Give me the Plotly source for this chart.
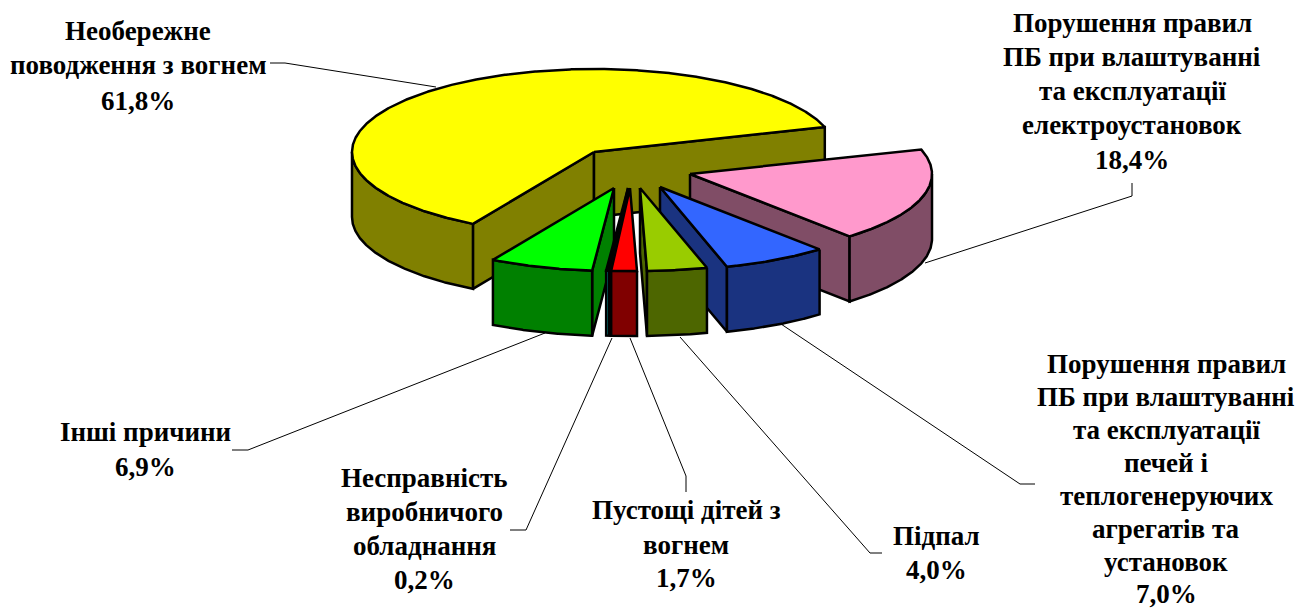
import numpy as np
import plotly.graph_objects as go

# --- data ---
categories = [
    ["Порушення правил", "ПБ при влаштуванні", "та експлуатації", "електроустановок"],
    ["Порушення правил", "ПБ при влаштуванні", "та експлуатації", "печей і", "теплогенеруючих", "агрегатів та", "установок"],
    ["Підпал"],
    ["Пустощі дітей з", "вогнем"],
    ["Несправність", "виробничого", "обладнання"],
    ["Інші причини"],
    ["Необережне", "поводження з вогнем"],
]
values = [18.4, 7.0, 4.0, 1.7, 0.2, 6.9, 61.8]
top_colors = ["#FF99CC", "#3366FF", "#99CC00", "#FF0000", "#00FFFF", "#00FF00", "#FFFF00"]
side_colors = ["#804D66", "#1A3380", "#4D6600", "#800000", "#008080", "#008000", "#808000"]

# --- layout / projection styling ---
W, H = 1296, 610
RX, RY, DEPTH = 242, 83, 65
START_DEG = 17.5
apexes = [(690, 174), (660, 187), (640, 188), (630, 188), (628, 188), (614, 188), (594, 152)]
draw_order = [6, 0, 1, 2, 5, 4, 3]
label_pos = [
    (1132, [23, 57, 91, 125, 160]),
    (1166, [364, 397, 430, 463, 496, 529, 562, 594]),
    (936, [536, 570]),
    (686, [510, 545, 578]),
    (424, [478, 512, 546, 580]),
    (145, [432, 467]),
    (138, [31, 65, 101]),
]
leaders = [
    [(1132, 183), (1132, 196), (925, 263)],
    [(1035, 484), (1020, 484), (778, 322)],
    [(882, 553), (870, 553), (680, 337)],
    [(686, 492), (686, 476), (630, 338)],
    [(510, 530), (526, 530), (612, 338)],
    [(232, 450), (248, 450), (545, 333)],
    [(270, 63), (285, 63), (436, 87)],
]
FONT = dict(family="Liberation Serif", size=27, color="black")


def arc(cx, cy, t1, t2, n=160):
    t = np.radians(np.linspace(t1, t2, n))
    return cx + RX * np.cos(t), cy - RY * np.sin(t)


fig = go.Figure()


def poly(xs, ys, color):
    fig.add_trace(go.Scatter(
        x=list(xs) + [xs[0]], y=list(ys) + [ys[0]], mode="lines", fill="toself",
        fillcolor=color, line=dict(color="black", width=2.5, shape="linear"),
        hoverinfo="skip", showlegend=False,
    ))


bounds = START_DEG - np.cumsum([0] + values) * 3.6
for i in draw_order:
    v, top, side, (cx, cy) = values[i], top_colors[i], side_colors[i], apexes[i]
    t1, t2 = bounds[i], bounds[i + 1]
    # cut walls
    for t, vis in ((t1, np.cos(np.radians(t1)) < 0), (t2, np.cos(np.radians(t2)) > 0)):
        if vis:
            ex, ey = arc(cx, cy, t, t, 1)
            poly([cx, ex[0], ex[0], cx], [cy, ey[0], ey[0] + DEPTH, cy + DEPTH], side)
    # outer wall: the part of the rim facing the viewer
    hi, lo = min(t1, 0), max(t2, -180)
    if hi > lo:
        ax, ay = arc(cx, cy, hi, lo)
        poly(np.r_[ax, ax[::-1]], np.r_[ay, ay[::-1] + DEPTH], side)
    # top face
    ax, ay = arc(cx, cy, t1, t2, max(int(v * 12), 8))
    poly(np.r_[cx, ax], np.r_[cy, ay], top)

shapes = []
for pts in leaders:
    path = "M " + " L ".join(f"{x} {y}" for x, y in pts)
    shapes.append(dict(type="path", path=path, xref="x", yref="y", layer="below",
                       line=dict(color="black", width=1)))

annotations = []
for lines, v, (lx, ys) in zip(categories, values, label_pos):
    texts = lines + [f"{v:.1f}%".replace(".", ",")]
    for txt, y in zip(texts, ys):
        annotations.append(dict(x=lx, y=y, xref="x", yref="y", text=f"<b>{txt}</b>",
                                showarrow=False, font=FONT, xanchor="center", yanchor="middle"))

fig.update_layout(
    width=W, height=H, margin=dict(l=0, r=0, t=0, b=0),
    paper_bgcolor="white", plot_bgcolor="white",
    xaxis=dict(range=[0, W], visible=False, fixedrange=True),
    yaxis=dict(range=[H, 0], visible=False, fixedrange=True),
    shapes=shapes, annotations=annotations,
)
fig.write_html("out.html", config={"displayModeBar": False},
               post_script="document.body.style.margin='0';document.body.style.overflow='hidden';")
